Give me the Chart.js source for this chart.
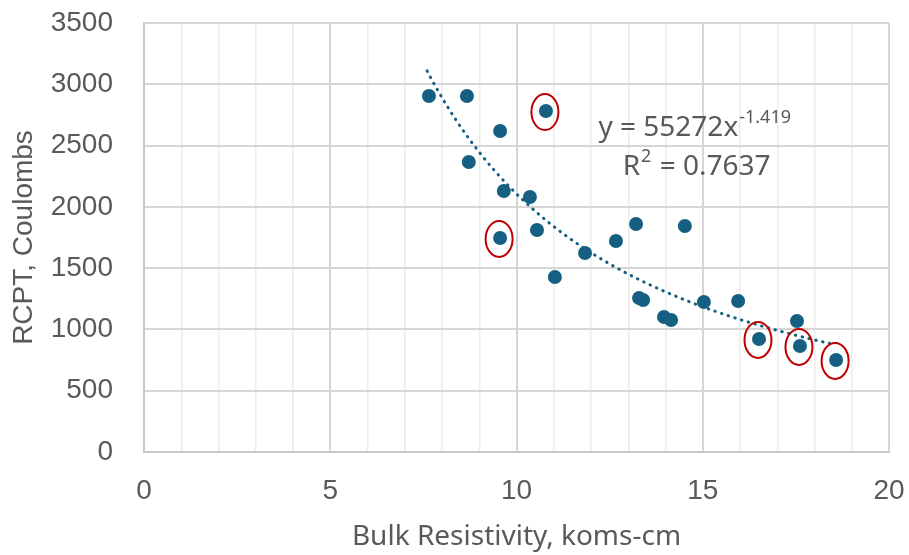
<!DOCTYPE html>
<html>
<head>
<meta charset="utf-8">
<script src="https://cdn.jsdelivr.net/npm/chart.js@4/dist/chart.umd.min.js"></script>
<style>
  html, body { margin: 0; padding: 0; background: #fff; }
  #wrap { width: 909px; height: 555px; position: relative; }
</style>
</head>
<body>
<div id="wrap"><canvas id="chart"></canvas></div>
<script>
// Measured points (bulk resistivity, RCPT)
const resistivity = [7.65, 8.67, 9.56, 8.72, 10.79, 9.66, 10.36, 9.56, 10.55, 11.03, 11.84, 12.67,
  13.21, 14.52, 13.29, 13.40, 13.96, 14.15, 15.03, 15.95, 16.51, 17.53, 17.61, 18.58]
const rcpt = [2904, 2904, 2619, 2366, 2782, 2129, 2080, 1746, 1811, 1428, 1624, 1721,
  1860, 1844, 1256, 1240, 1101, 1077, 1224, 1232, 922, 1069, 865, 751]

// points ringed in red
const circledIdx = [4, 7, 20, 22, 23]

// power trendline as printed on the chart: y = a * x^b
const trendCoef = [55272, -1.419]
const trendRange = [7.6, 18.4]
const trendLabel = ['y = 55272x', '-1.419']
const r2Label = ['R', '2', ' = 0.7637']

const xTitle = 'Bulk Resistivity, koms-cm'
const yTitle = 'RCPT, Coulombs'

const BLUE = '#156082'
const GREY_TXT = '#595959'
const TXT_FONT = '"Noto Sans", sans-serif'
const NUM_FONT = '"Liberation Sans", Arial, sans-serif'

// trendline samples along the fitted curve
const trendPts = []
for (let i = 0; i <= 120; i++) {
  const x = trendRange[0] + (trendRange[1] - trendRange[0]) * i / 120
  trendPts.push({ x: x, y: trendCoef[0] * Math.pow(x, trendCoef[1]) })
}

const extras = {
  id: 'extras',
  afterDatasetsDraw(chart) {
    const ctx = chart.ctx
    const xs = chart.scales.x, ys = chart.scales.y
    ctx.save()
    // red rings
    ctx.strokeStyle = '#C00000'
    ctx.lineWidth = 2
    circledIdx.forEach(i => {
      const px = xs.getPixelForValue(resistivity[i])
      const py = ys.getPixelForValue(rcpt[i])
      ctx.beginPath()
      ctx.ellipse(px - 1, py + 1, 13.5, 18, 0, 0, Math.PI * 2)
      ctx.stroke()
    })
    // equation text
    ctx.fillStyle = GREY_TXT
    ctx.textBaseline = 'alphabetic'
    ctx.textAlign = 'left'
    const ex = xs.getPixelForValue(12.2), ey = ys.getPixelForValue(2580)
    ctx.font = '28px ' + TXT_FONT
    ctx.fillText(trendLabel[0], ex, ey)
    const w = ctx.measureText(trendLabel[0]).width
    ctx.font = '18px ' + TXT_FONT
    ctx.fillText(trendLabel[1], ex + w + 1, ey - 13)

    const rx = xs.getPixelForValue(12.85), ry = ys.getPixelForValue(2260)
    ctx.font = '28px ' + TXT_FONT
    ctx.fillText(r2Label[0], rx, ry)
    const wr = ctx.measureText(r2Label[0]).width
    ctx.font = '18px ' + TXT_FONT
    ctx.fillText(r2Label[1], rx + wr + 1, ry - 13)
    const w2 = ctx.measureText(r2Label[1]).width
    ctx.font = '28px ' + TXT_FONT
    ctx.fillText(r2Label[2], rx + wr + w2 + 2, ry)
    ctx.restore()
  }
}

new Chart(document.getElementById('chart'), {
  type: 'scatter',
  data: {
    datasets: [
      {
        label: 'RCPT',
        data: resistivity.map((x, i) => ({ x: x, y: rcpt[i] })),
        backgroundColor: BLUE,
        borderWidth: 0,
        pointRadius: 7,
        order: 1
      },
      {
        label: 'Trend',
        type: 'line',
        data: trendPts,
        borderColor: BLUE,
        borderWidth: 3,
        borderDash: [0.5, 6.5],
        borderCapStyle: 'round',
        pointRadius: 0,
        fill: false,
        tension: 0,
        order: 0
      }
    ]
  },
  options: {
    responsive: true,
    maintainAspectRatio: false,
    animation: false,
    layout: { padding: { top: 23, right: 20, left: 0, bottom: 0 } },
    plugins: {
      legend: { display: false },
      tooltip: { enabled: false }
    },
    scales: {
      x: {
        type: 'linear',
        min: 0,
        max: 20,
        afterFit: (s) => {
          s.height = 103
          s.paddingLeft = 0
          s.paddingRight = 0
        },
        ticks: {
          stepSize: 1,
          autoSkip: false,
          maxRotation: 0,
          padding: 22,
          color: GREY_TXT,
          font: { family: NUM_FONT, size: 28 },
          callback: (v) => (v % 5 === 0 ? String(v) : '')
        },
        grid: {
          drawTicks: false,
          color: (c) => (c.tick && c.tick.value % 5 === 0 ? '#d6d6d6' : '#ececec'),
          lineWidth: (c) => (c.tick && c.tick.value % 5 === 0 ? 2 : 1.5)
        },
        border: { color: '#c8c8c8', width: 2 },
        title: {
          display: true,
          text: xTitle,
          color: GREY_TXT,
          font: { family: TXT_FONT, size: 28 },
          padding: { top: 0, bottom: 1 }
        }
      },
      y: {
        min: 0,
        max: 3500,
        afterFit: (s) => {
          s.width = 144
          s.paddingTop = 0
          s.paddingBottom = 0
        },
        ticks: {
          stepSize: 500,
          padding: 31,
          color: GREY_TXT,
          font: { family: NUM_FONT, size: 28 },
          callback: (v) => String(v)
        },
        grid: {
          drawTicks: false,
          color: '#d6d6d6',
          lineWidth: 2
        },
        border: { color: '#c8c8c8', width: 2 },
        title: {
          display: true,
          text: yTitle,
          color: GREY_TXT,
          font: { family: NUM_FONT, size: 28 },
          padding: { top: 7, bottom: 0 }
        }
      }
    }
  },
  plugins: [extras]
})
</script>
</body>
</html>
